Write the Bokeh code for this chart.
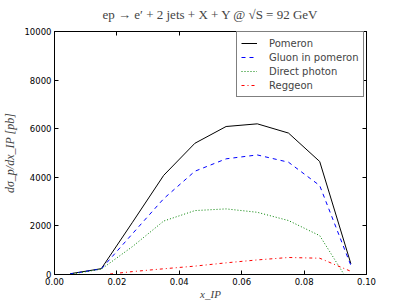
from bokeh.plotting import figure
from bokeh.models import (Range1d, FixedTicker, NumeralTickFormatter, BasicTickFormatter, LinearAxis,
                          Legend, LegendItem, CustomLabelingPolicy)
from bokeh.embed import file_html
from bokeh.resources import INLINE

# data
x_ip = [0.005, 0.015, 0.025, 0.035, 0.045, 0.055, 0.065, 0.075, 0.085, 0.095]
pomeron = [30, 240, 2150, 4080, 5400, 6090, 6200, 5820, 4650, 440]
gluon = [25, 230, 1680, 3120, 4250, 4760, 4920, 4620, 3660, 370]
direct = [10, 220, 1150, 2200, 2630, 2700, 2560, 2220, 1600, -450]
reggeon = [-30, -20, 120, 235, 345, 480, 600, 700, 670, 130]
series_names = ["Pomeron", "Gluon in pomeron", "Direct photon", "Reggeon"]
x_ticks = [0.0, 0.02, 0.04, 0.06, 0.08, 0.10]
y_ticks = [0, 2000, 4000, 6000, 8000, 10000]
title_text = "ep \u2192 e\u2032 + 2 jets + X + Y @ \u221aS = 92 GeV"
x_label = "x_IP"
y_label = "d\u03c3_p/dx_IP [pb]"

p = figure(width=407, height=305, x_range=Range1d(0, 0.1), y_range=Range1d(0, 10000),
           output_backend="svg", toolbar_location=None,
           min_border_left=52, min_border_right=41, min_border_top=31, min_border_bottom=31)
p.grid.visible = False
p.outline_line_color = "black"
p.outline_line_width = 1
p.background_fill_color = "white"
p.border_fill_color = "white"

p.title.text = title_text
p.title.align = "center"
p.title.text_font = "Liberation Serif"
p.title.text_font_size = "13px"
p.title.text_font_style = "normal"
p.title.standoff = 0
p.title.offset = 0

def style_axis(ax, ticks, show_labels):
    ax.ticker = FixedTicker(ticks=ticks)
    ax.major_tick_in = 4
    ax.major_tick_out = 0
    ax.minor_tick_in = 0
    ax.minor_tick_out = 0
    ax.axis_line_color = "black"
    ax.major_tick_line_color = "black"
    ax.major_label_text_font = "DejaVu Sans"
    ax.major_label_text_font_size = "8.5px"
    ax.major_label_text_color = "black"
    ax.major_label_standoff = 3
    if not show_labels:
        ax.major_label_policy = CustomLabelingPolicy(code="return []")
        ax.major_label_standoff = 0

xa = p.xaxis[0]
style_axis(xa, x_ticks, True)
xa.formatter = NumeralTickFormatter(format="0.00")
xa.axis_label = x_label
xa.axis_label_text_font = "Liberation Serif"
xa.axis_label_text_font_style = "italic"
xa.axis_label_text_font_size = "11px"
xa.axis_label_standoff = 0

ya = p.yaxis[0]
style_axis(ya, y_ticks, True)
ya.formatter = BasicTickFormatter(use_scientific=False)
ya.axis_label = y_label
ya.axis_label_text_font = "Liberation Serif"
ya.axis_label_text_font_style = "italic"
ya.axis_label_text_font_size = "12px"
ya.axis_label_standoff = 4

top = LinearAxis()
style_axis(top, x_ticks, False)
p.add_layout(top, "above")
right = LinearAxis()
style_axis(right, y_ticks, False)
p.add_layout(right, "right")

r1 = p.line(x_ip, pomeron, line_color="black", line_width=1)
r2 = p.line(x_ip, gluon, line_color="#0000ff", line_width=1, line_dash="4 4")
r3 = p.line(x_ip, direct, line_color="#008000", line_width=1, line_dash="1 2")
r4 = p.line(x_ip, reggeon, line_color="#ff0000", line_width=1, line_dash="3 3 1 3")

legend = Legend(items=[LegendItem(label=n, renderers=[r]) for n, r in zip(series_names, [r1, r2, r3, r4])],
                location=(182, 177), padding=4, spacing=0,
                label_text_font="DejaVu Sans", label_text_font_size="10px",
                label_height=14, glyph_height=14, glyph_width=16, label_standoff=12,
                border_line_color="black", border_line_width=1,
                background_fill_color="white", background_fill_alpha=1)
p.add_layout(legend)

open("out.html", "w").write(file_html(p, INLINE))
